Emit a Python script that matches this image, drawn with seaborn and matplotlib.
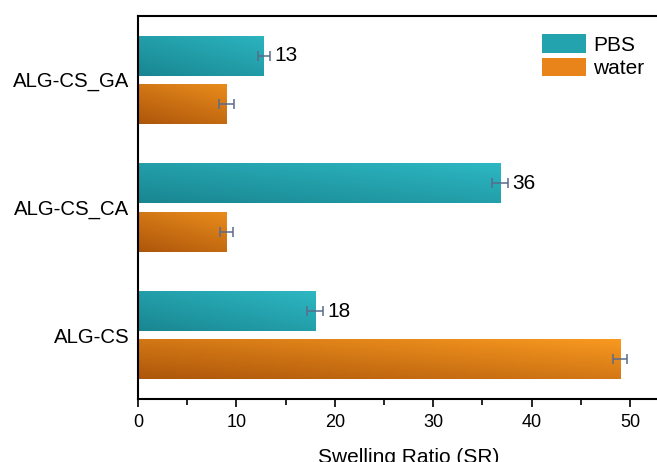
import numpy as np
import pandas as pd
import matplotlib
matplotlib.use("Agg")
import matplotlib.pyplot as plt
import seaborn as sns
from matplotlib.colors import LinearSegmentedColormap
from matplotlib.ticker import MultipleLocator
from matplotlib.patches import Patch

groups = ["ALG-CS_GA", "ALG-CS_CA", "ALG-CS"]
media = ["PBS", "water"]
pbs_values = [12.8, 36.8, 18.0]
water_values = [9.0, 9.0, 49.0]
pbs_errors = [0.65, 0.8, 0.8]
water_errors = [0.75, 0.65, 0.73]
pbs_labels = ["13", "36", "18"]

sns.set_theme(style="white")
plt.rcParams["font.family"] = ["Liberation Sans", "DejaVu Sans"]
plt.rcParams["text.color"] = "black"
plt.rcParams["axes.labelcolor"] = "black"
plt.rcParams["xtick.color"] = "black"
plt.rcParams["ytick.color"] = "black"

df = pd.DataFrame({
    "group": groups * 2,
    "medium": ["PBS"] * len(groups) + ["water"] * len(groups),
    "value": pbs_values + water_values,
})
errs = {"PBS": pbs_errors, "water": water_errors}

fig = plt.figure(figsize=(6.57, 4.62), dpi=100)
ax = fig.add_axes([0.21, 0.1364, 0.824, 0.829])

palette = {"PBS": "#22a0ab", "water": "#e0790f"}
cmaps = {
    "PBS": LinearSegmentedColormap.from_list("pbs", ["#198691", "#2db8c3"]),
    "water": LinearSegmentedColormap.from_list("water", ["#ad560b", "#f99a20"]),
}

sns.barplot(data=df, x="value", y="group", hue="medium", order=groups,
            hue_order=media, palette=palette, orient="h", width=0.754,
            gap=0.167, errorbar=None, ax=ax, legend=False, linewidth=0)

# gradient fill
ny, nx = 40, 300
vv = np.linspace(1, 0, ny)[:, None]
for medium, cont in zip(media, ax.containers):
    for patch in cont.patches:
        x0, y0 = patch.get_x(), patch.get_y()
        w, h = patch.get_width(), patch.get_height()
        uu = np.linspace(0, 1, nx)[None, :] * min(1.0, w / 15.0)
        grad = 0.5 * uu + 0.5 * vv
        im = ax.imshow(grad, cmap=cmaps[medium], vmin=0, vmax=1,
                       extent=(x0, x0 + w, y0 + h, y0), aspect="auto",
                       interpolation="bilinear", zorder=patch.get_zorder() + 0.1)
        im.set_clip_path(patch)

# error bars and labels
for medium, cont in zip(media, ax.containers):
    for j, patch in enumerate(cont.patches):
        yc = patch.get_y() + patch.get_height() / 2
        val = patch.get_width()
        e = errs[medium][j]
        ax.errorbar(val, yc, xerr=e, fmt="none", ecolor="#5a6b8c",
                    elinewidth=1.1, capsize=3.5, capthick=1.1, zorder=5)
        if medium == "PBS":
            ax.text(val + e + 0.4, yc, pbs_labels[j], ha="left", va="center",
                    fontsize=15, color="black", zorder=6)

ax.set_xlim(0, 55)
ax.set_ylim(2.5, -0.5)
ax.xaxis.set_major_locator(MultipleLocator(10))
ax.xaxis.set_minor_locator(MultipleLocator(5))
ax.tick_params(axis="x", which="major", bottom=True, top=False, length=6,
               width=1.2, direction="out", labelsize=13, pad=5)
ax.tick_params(axis="x", which="minor", bottom=True, top=False, length=4,
               width=1.2, direction="out")
ax.tick_params(axis="y", left=False, length=0, labelsize=14.7, pad=6)
for s in ax.spines.values():
    s.set_visible(True)
    s.set_color("black")
    s.set_linewidth(1.5)
ax.set_xlabel("Swelling Ratio (SR)", fontsize=15, labelpad=12)
ax.set_ylabel("")

handles = [Patch(facecolor="#22a3ae", edgecolor="none"),
           Patch(facecolor="#e8841a", edgecolor="none")]
ax.legend(handles, media, loc="upper left", bbox_to_anchor=(0.825, 0.926),
          bbox_transform=fig.transFigure, frameon=False, fontsize=15,
          borderpad=0, handlelength=2.1, handleheight=1.0, labelspacing=0.15,
          handletextpad=0.35, borderaxespad=0)

fig.savefig("out.png", dpi=100)
